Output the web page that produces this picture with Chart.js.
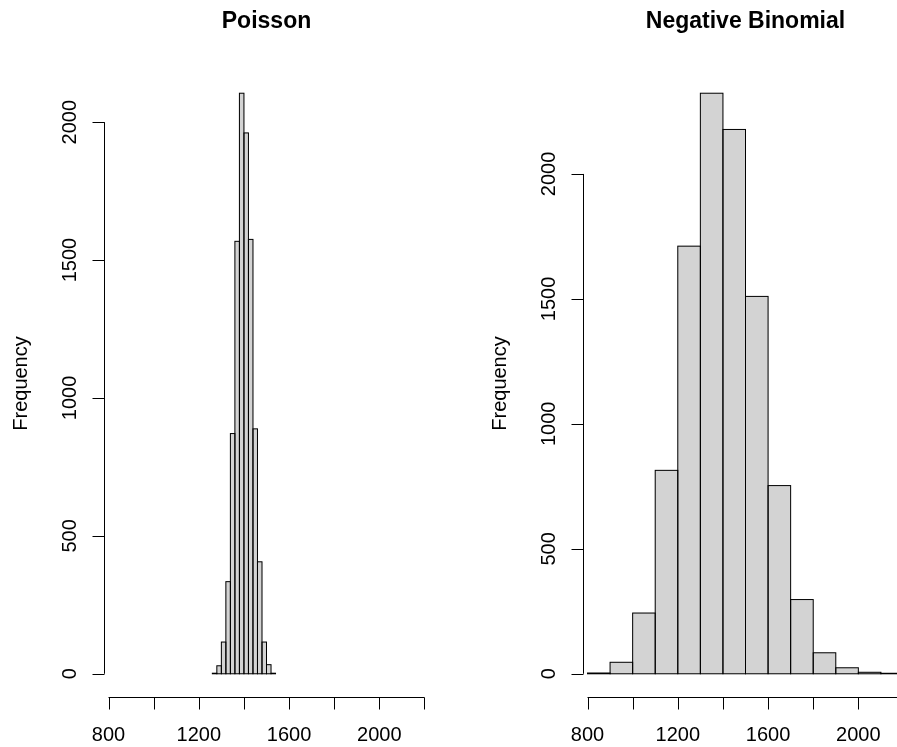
<!DOCTYPE html>
<html>
<head>
<meta charset="utf-8">
<script src="https://cdn.jsdelivr.net/npm/chart.js@4/dist/chart.umd.min.js"></script>
<style>
  html, body { margin: 0; padding: 0; background: #fff; overflow: hidden; width: 897px; height: 747px; }
  .panel { position: absolute; top: 0; }
</style>
</head>
<body>
<canvas id="poisson" class="panel" width="479" height="747" style="left:0"></canvas>
<canvas id="negbin" class="panel" width="479" height="747" style="left:479px"></canvas>
<script>
// histogram bins (left edges) and counts
const poissonBins = [1260, 1280, 1300, 1320, 1340, 1360, 1380, 1400, 1420, 1440, 1460, 1480, 1500, 1520];
const poissonCounts = [2, 29, 115, 334, 871, 1568, 2105, 1961, 1575, 888, 406, 115, 33, 2];
const poissonBinWidth = 20;

const negbinBins = [800, 900, 1000, 1100, 1200, 1300, 1400, 1500, 1600, 1700, 1800, 1900, 2000, 2100];
const negbinCounts = [3, 46, 243, 814, 1711, 2323, 2178, 1510, 753, 297, 84, 24, 6, 2];
const negbinBinWidth = 100;

const xTicks = [800, 1000, 1200, 1400, 1600, 1800, 2000, 2200];
const xTickLabels = ['800', '', '1200', '', '1600', '', '2000', ''];
const yTicks = [0, 500, 1000, 1500, 2000];

const FONT = '"Liberation Sans", Arial, Helvetica, sans-serif';

// R-style axes, title and bar outlines drawn through the chart's scales
const rStyle = {
  id: 'rStyle',
  afterDatasetsDraw(chart) {
    const ctx = chart.ctx;
    ctx.save();
    ctx.strokeStyle = '#000';
    ctx.lineWidth = 1;
    chart.getDatasetMeta(0).data.forEach(bar => {
      const p = bar.getProps(['x', 'y', 'base', 'width'], true);
      ctx.strokeRect(p.x - p.width / 2, p.y, p.width, p.base - p.y);
    });
    ctx.restore();
  },
  afterDraw(chart, args, opts) {
    const ctx = chart.ctx;
    const area = chart.chartArea;
    const xs = chart.scales.x, ys = chart.scales.y;
    const tick = 12;
    ctx.save();
    ctx.strokeStyle = '#000';
    ctx.fillStyle = '#000';
    ctx.lineWidth = 1;

    // x axis
    const xb = Math.round(area.bottom) + 0.5;
    ctx.beginPath();
    ctx.moveTo(xs.getPixelForValue(xTicks[0]), xb);
    ctx.lineTo(xs.getPixelForValue(xTicks[xTicks.length - 1]), xb);
    xTicks.forEach(v => {
      const px = Math.round(xs.getPixelForValue(v)) + 0.5;
      ctx.moveTo(px, xb);
      ctx.lineTo(px, xb + tick);
    });
    ctx.stroke();
    ctx.font = '20px ' + FONT;
    ctx.textAlign = 'center';
    ctx.textBaseline = 'alphabetic';
    xTicks.forEach((v, i) => {
      if (xTickLabels[i]) ctx.fillText(xTickLabels[i], xs.getPixelForValue(v), 741);
    });

    // y axis
    const yl = Math.round(area.left) + 0.5;
    ctx.beginPath();
    ctx.moveTo(yl, ys.getPixelForValue(yTicks[0]));
    ctx.lineTo(yl, ys.getPixelForValue(yTicks[yTicks.length - 1]));
    yTicks.forEach(v => {
      const py = Math.round(ys.getPixelForValue(v)) + 0.5;
      ctx.moveTo(yl, py);
      ctx.lineTo(yl - tick, py);
    });
    ctx.stroke();
    yTicks.forEach(v => {
      ctx.save();
      ctx.translate(area.left - 28, ys.getPixelForValue(v));
      ctx.rotate(-Math.PI / 2);
      ctx.fillText(String(v), 0, 0);
      ctx.restore();
    });

    // axis title
    ctx.save();
    ctx.translate(area.left - 77, (area.top + area.bottom) / 2);
    ctx.rotate(-Math.PI / 2);
    ctx.fillText('Frequency', 0, 0);
    ctx.restore();

    // main title
    ctx.font = 'bold 23px ' + FONT;
    ctx.fillText(opts.title, (area.left + area.right) / 2, 28);
    ctx.restore();
  }
};

function histChart(id, title, bins, counts, binWidth) {
  const yMax = Math.max(...counts);
  return new Chart(document.getElementById(id), {
    type: 'bar',
    data: {
      datasets: [{
        data: bins.map((b, i) => ({ x: b + binWidth / 2, y: counts[i] })),
        backgroundColor: '#d3d3d3',
        borderWidth: 0,
        barPercentage: 1,
        categoryPercentage: 1,
        grouped: false
      }]
    },
    options: {
      responsive: false,
      animation: false,
      devicePixelRatio: 1,
      layout: { padding: { left: 104, right: 50, top: 70, bottom: 50 } },
      scales: {
        x: { type: 'linear', offset: false, min: 780, max: 2220, display: false },
        y: { min: -0.04 * yMax, max: 1.04 * yMax, display: false }
      },
      plugins: {
        legend: { display: false },
        tooltip: { enabled: false },
        rStyle: { title: title }
      }
    },
    plugins: [rStyle]
  });
}

histChart('poisson', 'Poisson', poissonBins, poissonCounts, poissonBinWidth);
histChart('negbin', 'Negative Binomial', negbinBins, negbinCounts, negbinBinWidth);
</script>
</body>
</html>
